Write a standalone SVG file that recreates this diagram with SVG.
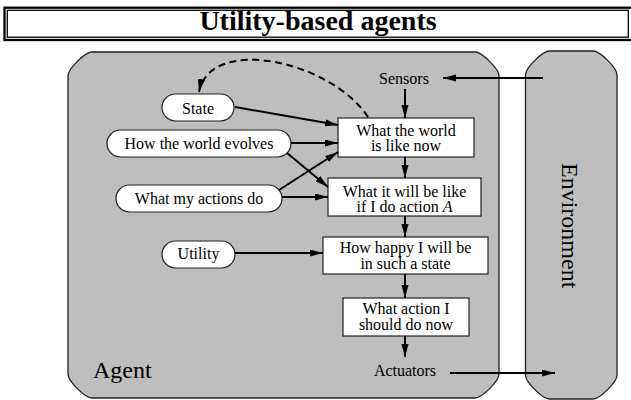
<svg xmlns="http://www.w3.org/2000/svg" width="631" height="400" viewBox="0 0 631 400">
<style>
  .t { font-family: "Liberation Serif", "Times New Roman", serif; font-size: 16px; fill: #000; text-anchor: middle; }
  .panel { fill: #bebebe; stroke: #222; stroke-width: 1.3; }
  .box { fill: #fff; stroke: #222; stroke-width: 1.2; }
  .arrow { fill: none; stroke: #000; stroke-width: 2; marker-end: url(#ah); }
  .dash { stroke-dasharray: 7 4.5; }
</style>
<defs>
  <marker id="ah" markerUnits="userSpaceOnUse" markerWidth="14" markerHeight="8" refX="13" refY="3.5" orient="auto">
    <path d="M0,0 L13,3.5 L0,7 Z" fill="#000"/>
  </marker>
</defs>
<rect width="631" height="400" fill="#fff"/>

<g id="title">
  <rect x="4.5" y="7.7" width="632" height="32.3" fill="none" stroke="#000" stroke-width="2.3"/>
  <rect x="7.3" y="10.3" width="621" height="26.9" fill="none" stroke="#000" stroke-width="1.3"/>
  <text x="318" y="30" style="font-family:'Liberation Serif','Times New Roman',serif;font-weight:bold;font-size:28px;text-anchor:middle">Utility-based agents</text>
</g>

<g id="agent">
  <path class="panel" d="M68,76 C68,69 85,52 92,52 L475,52 C482,52 499,69 499,76 L499,374 C499,381 482,398 475,398 L92,398 C85,398 68,381 68,374 Z"/>
  <text x="93" y="378" style="font-family:'Liberation Serif','Times New Roman',serif;font-size:24px">Agent</text>
</g>

<g id="environment">
  <path class="panel" d="M525.5,75 C525.5,68 542.5,51 549.5,51 L593,51 C600,51 617,68 617,75 L617,375 C617,382 600,399 593,399 L549.5,399 C542.5,399 525.5,382 525.5,375 Z"/>
  <text transform="translate(562,163) rotate(90)" x="0" y="0" style="font-family:'Liberation Serif','Times New Roman',serif;font-size:24px">Environment</text>
</g>

<g id="sensors"><text class="t" x="404" y="84">Sensors</text></g>
<g id="actuators"><text class="t" x="405" y="375.5">Actuators</text></g>

<g id="world-now">
  <rect class="box" x="338" y="118" width="136" height="39"/>
  <text class="t" x="406" y="135.5">What the world</text>
  <text class="t" x="406" y="151">is like now</text>
</g>
<g id="will-be-like">
  <rect class="box" x="328" y="178" width="153" height="38"/>
  <text class="t" x="404.5" y="196.5">What it will be like</text>
  <text class="t" x="404.5" y="211.5">if I do action <tspan font-style="italic">A</tspan></text>
</g>
<g id="how-happy">
  <rect class="box" x="323" y="237" width="165" height="37"/>
  <text class="t" x="405.5" y="253.3">How happy I will be</text>
  <text class="t" x="405.5" y="269.3">in such a state</text>
</g>
<g id="what-action">
  <rect class="box" x="343" y="298" width="126" height="38"/>
  <text class="t" x="406" y="314.3">What action I</text>
  <text class="t" x="406" y="330">should do now</text>
</g>

<g id="state">
  <rect class="box" x="162" y="94" width="72" height="27" rx="13.5"/>
  <text class="t" x="198" y="113.5">State</text>
</g>
<g id="world-evolves">
  <rect class="box" x="107" y="130" width="184" height="27" rx="13.5"/>
  <text class="t" x="199" y="149">How the world evolves</text>
</g>
<g id="actions-do">
  <rect class="box" x="116" y="185" width="166" height="27" rx="13.5"/>
  <text class="t" x="199" y="204">What my actions do</text>
</g>
<g id="utility">
  <rect class="box" x="162" y="241" width="73" height="27" rx="13.5"/>
  <text class="t" x="198.5" y="259.3">Utility</text>
</g>

<g id="connectors">
  <path class="arrow" d="M543,78 L443,78"/>
  <path class="arrow" d="M405,89 L405,118"/>
  <path class="arrow" d="M405,157 L405,178"/>
  <path class="arrow" d="M405,216 L405,237"/>
  <path class="arrow" d="M405,274 L405,298"/>
  <path class="arrow" d="M405,336 L405,357"/>
  <path class="arrow" d="M450,373 L555,373"/>
  <path class="arrow" d="M235,107 L338,125"/>
  <path class="arrow" d="M291,143 L338,143"/>
  <path class="arrow" d="M287,153 L328,187"/>
  <path class="arrow" d="M279,190 L338,152"/>
  <path class="arrow" d="M282,197 L328,197"/>
  <path class="arrow" d="M235,253 L323,253"/>
  <path class="arrow dash" d="M368,117 C330,60 210,35 199,92"/>
</g>
</svg>
